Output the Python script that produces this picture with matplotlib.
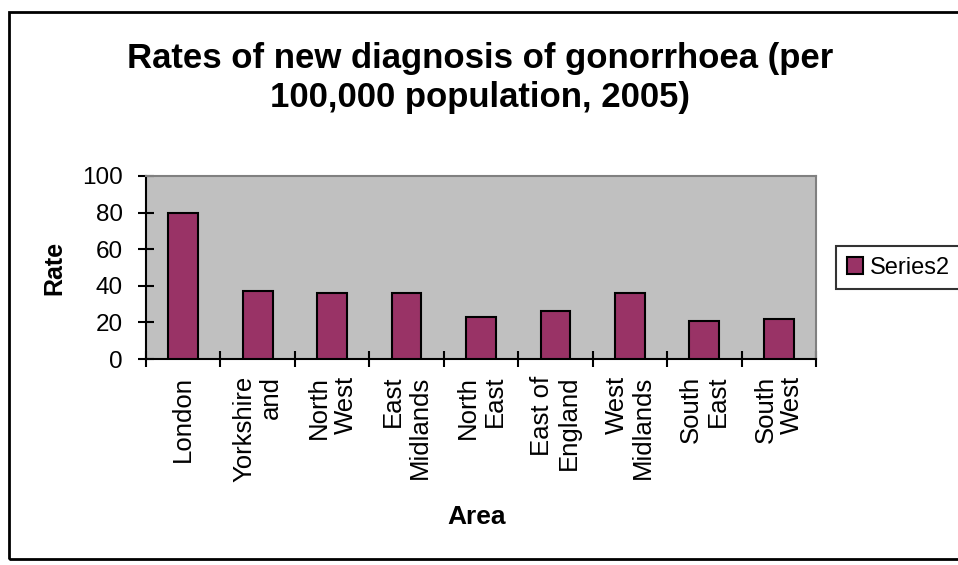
import matplotlib.pyplot as plt
from matplotlib.patches import Rectangle

plt.rcParams['font.family'] = ['Liberation Sans', 'DejaVu Sans']

areas = ["London", "Yorkshire\nand", "North\nWest", "East\nMidlands", "North\nEast",
         "East of\nEngland", "West\nMidlands", "South\nEast", "South\nWest"]
rates = [80, 37.3, 36.2, 36.2, 23.1, 26.4, 36.2, 20.9, 22.0]
yticks = [0, 20, 40, 60, 80, 100]

fig = plt.figure(figsize=(9.58, 5.65), dpi=100)
ax = fig.add_axes([146/958, 1-359/565, 670/958, 183/565])

x = list(range(len(areas)))
ax.bar(x, rates, width=0.4, color='#993366', edgecolor='black', linewidth=1.5, label='Series2', zorder=3)
ax.set_facecolor('#C0C0C0')
ax.set_xlim(-0.5, len(areas) - 0.5)
ax.set_ylim(0, 100)

ax.set_yticks(yticks)
ax.set_yticklabels([str(v) for v in yticks], fontsize=17.5)
ax.tick_params(axis='y', direction='inout', length=11, width=1.5, pad=11)

ax.set_xticks(x)
ax.set_xticklabels(areas, rotation=90, fontsize=18.5, va='top', ha='center',
                   multialignment='right', linespacing=1.15)
ax.tick_params(axis='x', which='major', length=0, pad=12)
ax.set_xticks([i + 0.5 for i in range(-1, len(areas))], minor=True)
ax.tick_params(axis='x', which='minor', direction='inout', length=11, width=1.5)

for side in ['top', 'right']:
    ax.spines[side].set_color('#808080')
    ax.spines[side].set_linewidth(1.5)
for side in ['left', 'bottom']:
    ax.spines[side].set_linewidth(1.5)

ax.set_ylabel('Rate', fontsize=18, fontweight='bold')
ax.set_xlabel('Area', fontsize=19, fontweight='bold')
ax.xaxis.set_label_coords(0.494, -(505 - 359) / 183)
ax.yaxis.set_label_coords(-(146 - 66) / 670, 0.5)

fig.text(480/958, 1-78/565, 'Rates of new diagnosis of gonorrhoea (per\n100,000 population, 2005)',
         ha='center', va='center', fontsize=25, fontweight='bold', linespacing=1.2)

leg = ax.legend(loc='upper left', bbox_to_anchor=(836/958, 1-246/565), bbox_transform=fig.transFigure,
                fontsize=17, frameon=True, fancybox=False, handlelength=0.7, handleheight=0.7,
                handletextpad=0.3, borderpad=0.45, borderaxespad=0)
leg.get_frame().set_edgecolor('black')
leg.get_frame().set_linewidth(1.5)

fig.patches.append(Rectangle((9/958, 1-559/565), 1.1, (559-12)/565, transform=fig.transFigure,
                             fill=False, edgecolor='black', linewidth=2, clip_on=False))

fig.savefig('out.png', dpi=100)
